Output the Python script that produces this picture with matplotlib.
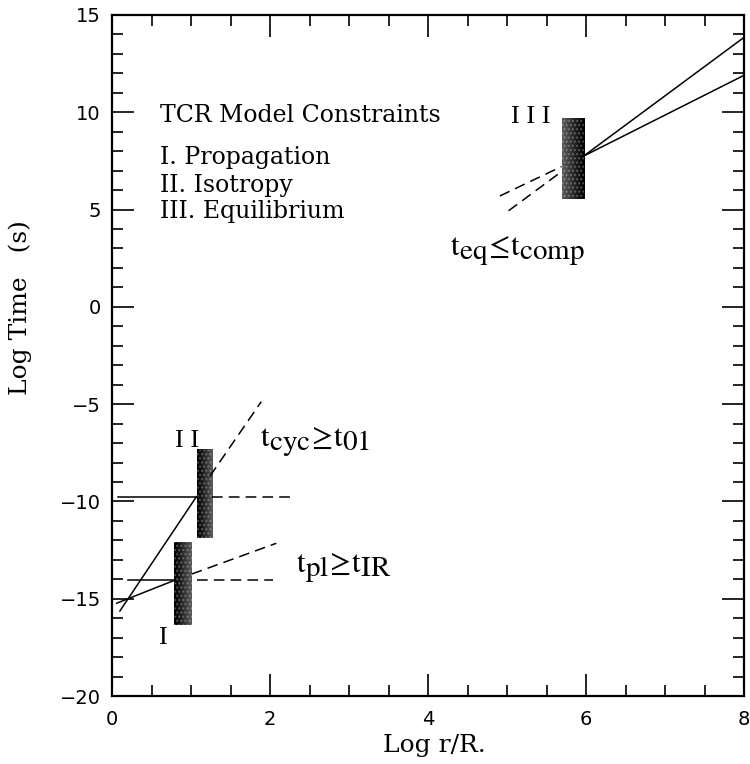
import numpy as np
import matplotlib
matplotlib.use("Agg")
import matplotlib.pyplot as plt
import matplotlib._mathtext as mathtext_internal
from matplotlib.patches import Rectangle

plt.rcParams["mathtext.fontset"] = "stix"
# the subscripts in the original are nearly full size
mathtext_internal.SHRINK_FACTOR = 0.95

# constraint bars (I, II, III)
bar_names = ["I", "II", "III"]
bar_left = [0.79, 1.07, 5.69]
bar_right = [1.01, 1.26, 5.97]
bar_bottom = [-16.35, -11.88, 5.54]
bar_top = [-12.10, -7.35, 9.69]
bar_dark_side = ["left", "left", "right"]

# solid constraint lines
solid_x = [[0.10, 1.07], [0.06, 0.80], [0.08, 1.07], [0.20, 0.79],
           [5.97, 8.00], [5.97, 8.00]]
solid_y = [[-15.63, -9.75], [-15.23, -14.04], [-9.75, -9.75], [-14.03, -14.03],
           [7.75, 13.85], [7.75, 11.90]]

# dashed continuations
dashed_x = [[1.24, 1.89], [1.01, 2.08], [1.26, 2.25], [1.07, 2.04],
            [4.91, 5.69], [5.02, 5.69]]
dashed_y = [[-8.70, -4.87], [-13.73, -12.15], [-9.75, -9.75], [-14.03, -14.03],
            [5.70, 7.21], [4.94, 6.95]]

legend_lines = ["TCR Model Constraints", "I. Propagation", "II. Isotropy", "III. Equilibrium"]
legend_y = [9.86, 7.70, 6.26, 4.88]

x_ticks = [0, 2, 4, 6, 8]
y_ticks = [-20, -15, -10, -5, 0, 5, 10, 15]

fig = plt.figure(figsize=(7.5, 7.64), dpi=100)
ax = fig.add_axes([112 / 750, 68 / 764, 632 / 750, 681 / 764])

for l, r, b, t, side in zip(bar_left, bar_right, bar_bottom, bar_top, bar_dark_side):
    grad = np.linspace(1.0, 0.72, 24)
    if side == "right":
        grad = grad[::-1]
    ax.imshow(grad[np.newaxis, :], cmap="Greys", vmin=0, vmax=1, extent=[l, r, b, t],
              aspect="auto", interpolation="bilinear", zorder=2)
    ax.add_patch(Rectangle((l, b), r - l, t - b, facecolor="none", edgecolor="white",
                           hatch="....", lw=0, alpha=0.25, zorder=3))

for xs, ys in zip(solid_x, solid_y):
    ax.plot(xs, ys, color="black", lw=1.1, zorder=4)
for xs, ys in zip(dashed_x, dashed_y):
    ax.plot(xs, ys, color="black", lw=1.1, dashes=(7, 4), zorder=4)

serif = "DejaVu Serif"
times = "Liberation Serif"
for txt, yy in zip(legend_lines, legend_y):
    ax.text(0.61, yy, txt, family=serif, fontsize=17, va="center")

ax.text(5.30, 9.76, "I I I", family=times, fontsize=19, ha="center", va="center")
ax.text(0.95, -6.9, "I I", family=times, fontsize=19, ha="center", va="center")
ax.text(0.64, -17.0, "I", family=times, fontsize=19, ha="center", va="center")

ax.text(1.87, -6.9, r"$\mathrm{t_{cyc}\!\geq\! t_{01}}$", fontsize=22, va="center")
ax.text(2.33, -13.4, r"$\mathrm{t_{pl}\!\geq\! t_{IR}}$", fontsize=22, va="center")
ax.text(4.28, 2.9, r"$\mathrm{t_{eq}\!\leq\! t_{comp}}$", fontsize=22, va="center")

ax.set_xlim(0, 8)
ax.set_ylim(-20, 15)
ax.set_xticks(x_ticks)
ax.set_yticks(y_ticks)
ax.set_xticks(np.arange(0, 8.01, 0.5), minor=True)
ax.set_yticks(np.arange(-20, 15.01, 1), minor=True)
ax.tick_params(which="both", direction="in", top=True, right=True, width=1.2)
ax.tick_params(which="major", length=16, labelsize=14)
ax.tick_params(which="minor", length=8)
ax.tick_params(axis="y", pad=8)
ax.tick_params(axis="x", pad=10)
for s in ax.spines.values():
    s.set_linewidth(1.6)

ax.set_xlabel("Log r/R.", family=serif, fontsize=18)
ax.xaxis.set_label_coords(0.51, -0.056)
ax.set_ylabel("Log Time   (s)", family=serif, fontsize=18)
ax.yaxis.set_label_coords(-0.127, 0.571)

fig.savefig("out.png", dpi=100)
